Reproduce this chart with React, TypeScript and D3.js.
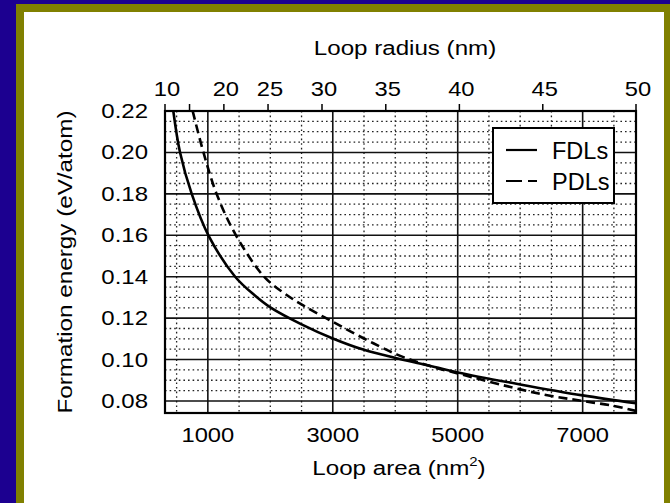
import React from 'react';
import * as d3 from 'd3';

// Loop area (nm^2) vs formation energy (eV/atom)
const fdlArea = [447, 555, 742, 1009, 1437, 1758, 2000, 2500, 3000, 3500, 4000, 4500, 5000, 6000, 7000, 7854];
const fdlEnergy = [0.22, 0.2, 0.18, 0.16, 0.14, 0.1308, 0.1252, 0.117, 0.1102, 0.1047, 0.1008, 0.0974, 0.0938, 0.088, 0.0827, 0.0789];
const pdlArea = [757, 930, 1140, 1450, 1900, 2200, 2533, 3014, 3523, 4031, 4513, 5000, 6000, 6500, 7000, 7500, 7854];
const pdlEnergy = [0.22, 0.2, 0.18, 0.16, 0.14, 0.1325, 0.126, 0.118, 0.1098, 0.1024, 0.0972, 0.0933, 0.0856, 0.0824, 0.08, 0.0776, 0.0752];

const areaTicks = [1000, 3000, 5000, 7000];
const areaMinor = [500, 1500, 2000, 2500, 3500, 4000, 4500, 5500, 6000, 6500, 7500];
const radiusTicks = [10, 15, 20, 25, 30, 35, 40, 45, 50];
const radiusLabels = [10, 20, 25, 30, 35, 40, 45, 50];
const energyTicks = [0.08, 0.1, 0.12, 0.14, 0.16, 0.18, 0.2, 0.22];
const energyMinor = [0.085, 0.09, 0.095, 0.105, 0.11, 0.115, 0.125, 0.13, 0.135, 0.145, 0.15, 0.155, 0.165, 0.17, 0.175, 0.185, 0.19, 0.195, 0.205, 0.21, 0.215];
const legendNames = ['FDLs', 'PDLs'];

const W = 670, H = 503;
const L = 165, R = 636, T = 111, B = 413;
const FONT = '"Liberation Sans", Arial, Helvetica, sans-serif';

const x = d3.scaleLinear().domain([Math.PI * 100, Math.PI * 2500]).range([L, R]);
const y = d3.scaleLinear().domain([0.0742, 0.22]).range([B, T]);

function Txt({ x, y, size, sx = 1, anchor = 'middle', rotate = 0, children }: any) {
  return (
    <g transform={`translate(${x},${y}) rotate(${rotate}) scale(${sx},1)`}>
      <text x={0} y={0} textAnchor={anchor} fontSize={size} fontFamily={FONT} fill="#000">
        {children}
      </text>
    </g>
  );
}

export default function App() {
  const line = d3
    .line<[number, number]>()
    .x((d) => x(d[0]))
    .y((d) => y(d[1]))
    .curve(d3.curveCatmullRom.alpha(0.5));
  const fdl = line(fdlArea.map((a, i) => [a, fdlEnergy[i]]) as [number, number][]) || '';
  const pdl = line(pdlArea.map((a, i) => [a, pdlEnergy[i]]) as [number, number][]) || '';
  const fmt = d3.format('.2f');

  const lg = { x0: 493, y0: 128, w: 121, h: 75 };

  return (
    <svg width={W} height={H} style={{ position: 'absolute', left: 0, top: 0, display: 'block' }}>
      <rect x={0} y={0} width={W} height={H} fill="#1c0090" />
      <rect x={16} y={4} width={W - 16} height={H - 4} fill="#808000" />
      <rect x={24} y={12} width={640} height={H - 12} fill="#ffffff" />
      <defs>
        <clipPath id="plotclip">
          <rect x={L} y={T} width={R - L} height={B - T} />
        </clipPath>
      </defs>
      {/* minor grid */}
      <g stroke="#222" strokeWidth={1.3} strokeDasharray="1.6 3">
        {areaMinor.map((a) => (
          <line key={'vm' + a} x1={x(a)} x2={x(a)} y1={T} y2={B} />
        ))}
        {energyMinor.map((e) => (
          <line key={'hm' + e} x1={L} x2={R} y1={y(e)} y2={y(e)} />
        ))}
      </g>
      {/* major grid */}
      <g stroke="#111" strokeWidth={1.6}>
        {areaTicks.map((a) => (
          <line key={'vM' + a} x1={x(a)} x2={x(a)} y1={T} y2={B} />
        ))}
        {energyTicks.map((e) => (
          <line key={'hM' + e} x1={L} x2={R} y1={y(e)} y2={y(e)} />
        ))}
      </g>
      {/* legend box */}
      <rect x={lg.x0} y={lg.y0} width={lg.w} height={lg.h} fill="#fff" stroke="#000" strokeWidth={2} />
      <line x1={506} x2={537} y1={150} y2={150} stroke="#000" strokeWidth={2.2} />
      <line x1={506} x2={537} y1={181} y2={181} stroke="#000" strokeWidth={2.2} strokeDasharray="16 6" />
      <Txt x={552} y={159} size={23.5} anchor="start">{legendNames[0]}</Txt>
      <Txt x={552} y={190} size={23.5} anchor="start">{legendNames[1]}</Txt>
      {/* curves */}
      <g clipPath="url(#plotclip)" fill="none" stroke="#000" strokeWidth={2.6}>
        <path d={fdl} />
        <path d={pdl} strokeDasharray="9 5" />
      </g>
      {/* frame */}
      <rect x={L} y={T} width={R - L} height={B - T} fill="none" stroke="#000" strokeWidth={2.2} />
      {/* top ticks */}
      {radiusTicks.map((r) => (
        <line key={'rt' + r} x1={x(Math.PI * r * r)} x2={x(Math.PI * r * r)} y1={T} y2={T - 7} stroke="#000" strokeWidth={1.5} />
      ))}
      {radiusLabels.map((r) => (
        <Txt key={'rl' + r} x={x(Math.PI * r * r) + 2} y={96} size={21} sx={1.13}>
          {String(r)}
        </Txt>
      ))}
      <Txt x={405} y={55} size={21} sx={1.15}>Loop radius (nm)</Txt>
      {/* bottom labels */}
      {areaTicks.map((a) => (
        <Txt key={'al' + a} x={x(a)} y={442} size={21} sx={1.13}>
          {String(a)}
        </Txt>
      ))}
      <g transform={`translate(399,475) scale(1.15,1)`}>
        <text x={0} y={0} textAnchor="middle" fontSize={21} fontFamily={FONT} fill="#000">
          Loop area (nm
          <tspan fontSize={13} dy={-9}>2</tspan>
          <tspan dy={9}>)</tspan>
        </text>
      </g>
      {/* left labels */}
      {energyTicks.map((e) => (
        <Txt key={'el' + e} x={148} y={y(e) + 7} size={20} sx={1.2} anchor="end">
          {fmt(e)}
        </Txt>
      ))}
      <Txt x={72} y={262} size={21} sx={1.155} rotate={-90}>Formation energy (eV/atom)</Txt>
    </svg>
  );
}
